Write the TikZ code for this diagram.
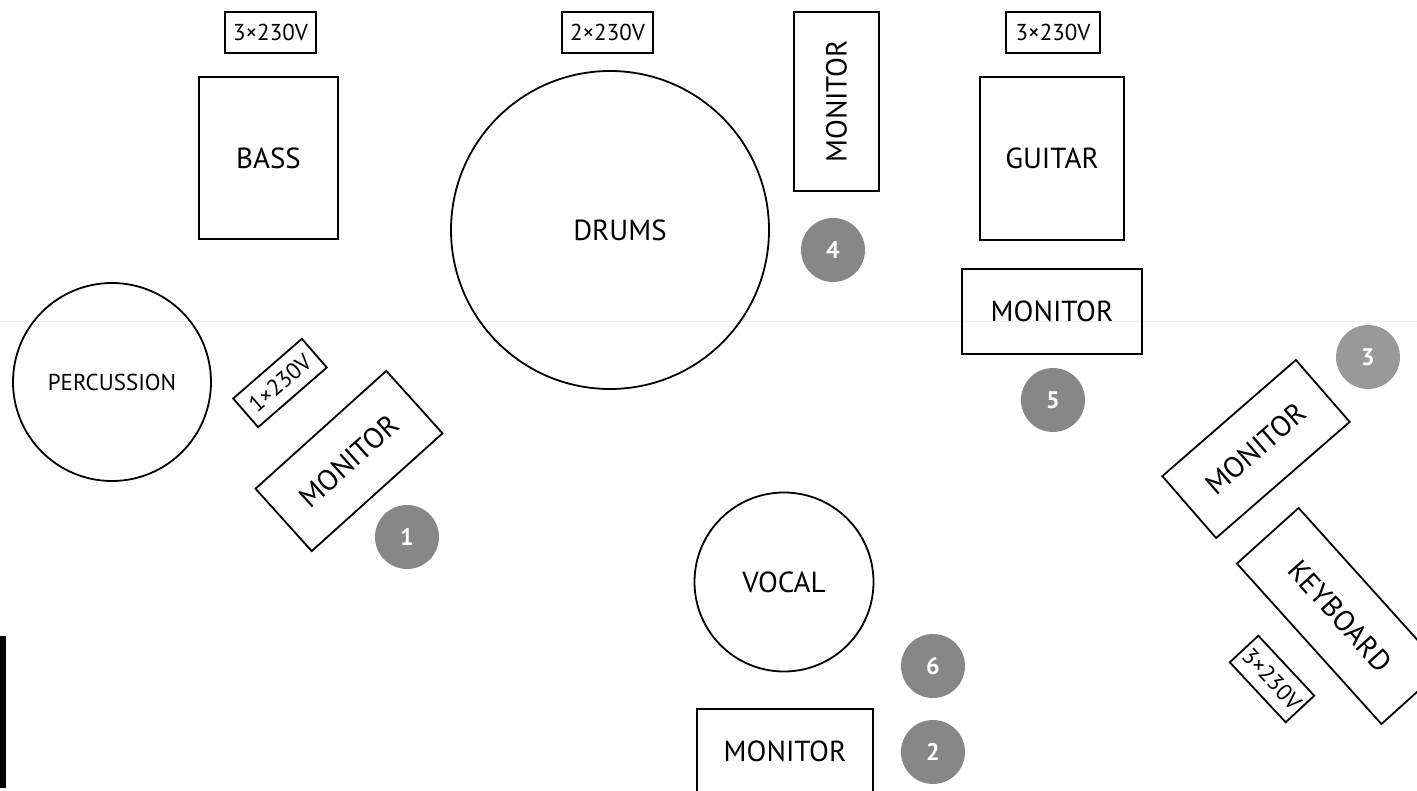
\documentclass[tikz,border=0pt]{standalone}
\usepackage{fontspec}
\setmainfont{PT Sans}
\begin{document}
\begin{tikzpicture}[x=1pt,y=-1pt,
  box/.style={draw, line width=1.8pt, inner sep=0pt, font=\fontsize{29}{31}\selectfont},
  pwr/.style={draw, line width=1.8pt, inner sep=0pt, font=\fontsize{23}{25}\selectfont},
  ring/.style={draw, circle, line width=1.8pt, inner sep=0pt, font=\fontsize{29}{31}\selectfont},
  badge/.style={circle, fill=badgegray, inner sep=0pt, minimum size=64pt, text=white, font=\fontsize{24}{26}\selectfont\bfseries}]
\definecolor{badgegray}{RGB}{135,135,135}
\useasboundingbox (0,0) rectangle (1417,791);
\fill[white] (0,0) rectangle (1417,791);
\coordinate (la) at (0,322);
\coordinate (lb) at (1417,322);
\draw[black!6, line width=1pt] (la) -- (lb);
\fill[black] (0,636) rectangle (6,788);
% bass
\node[pwr, minimum width=91pt, minimum height=41pt] (pw1) at (270.5,32.5) {3×230V};
\node[box, minimum width=139pt, minimum height=162pt] (bass) at (268.5,158) {BASS};
% drums
\node[pwr, minimum width=91pt, minimum height=41pt] (pw2) at (607.5,32.5) {2×230V};
\node[ring, minimum size=318pt] (drums) at (610,230) {};
\node[font=\fontsize{29}{31}\selectfont] (drumst) at (620,230) {DRUMS};
\node[box, rotate=90, minimum width=179pt, minimum height=85pt] (mon4) at (836.5,101.5) {MONITOR};
\node[badge] (b4) at (833,250) {4};
% guitar
\node[pwr, minimum width=94pt, minimum height=41pt] (pw3) at (1053,32.5) {3×230V};
\node[box, minimum width=144pt, minimum height=163pt] (guitar) at (1052,158.5) {GUITAR};
\node[box, minimum width=180pt, minimum height=85pt] (mon5) at (1052,311.5) {MONITOR};
\node[badge] (b5) at (1053,400) {5};
% percussion
\node[ring, minimum size=198pt, font=\fontsize{23}{25}\selectfont] (perc) at (112,382) {PERCUSSION};
\node[pwr, rotate=41, minimum width=91pt, minimum height=38pt] (pw4) at (280,383) {1×230V};
\node[box, rotate=42, minimum width=176pt, minimum height=84pt] (mon1) at (349,461) {MONITOR};
\node[badge] (b1) at (407,537) {1};
% vocal
\node[ring, minimum size=179pt] (vocal) at (784,582) {VOCAL};
\node[badge] (b6) at (933,666) {6};
\node[box, minimum width=176pt, minimum height=85pt] (mon2) at (785,751.5) {MONITOR};
\node[badge] (b2) at (933,752) {2};
% keyboard
\node[badge, fill=badgegray!85] (b3) at (1368,357) {3};
\node[box, rotate=41, minimum width=177pt, minimum height=82pt] (mon3) at (1256,449) {MONITOR};
\node[box, rotate=-48, minimum width=216pt, minimum height=83pt] (kbd) at (1340,616) {KEYBOARD};
\node[pwr, rotate=-47, minimum width=82pt, minimum height=39pt] (pw5) at (1272,679) {3×230V};
\end{tikzpicture}
\end{document}
